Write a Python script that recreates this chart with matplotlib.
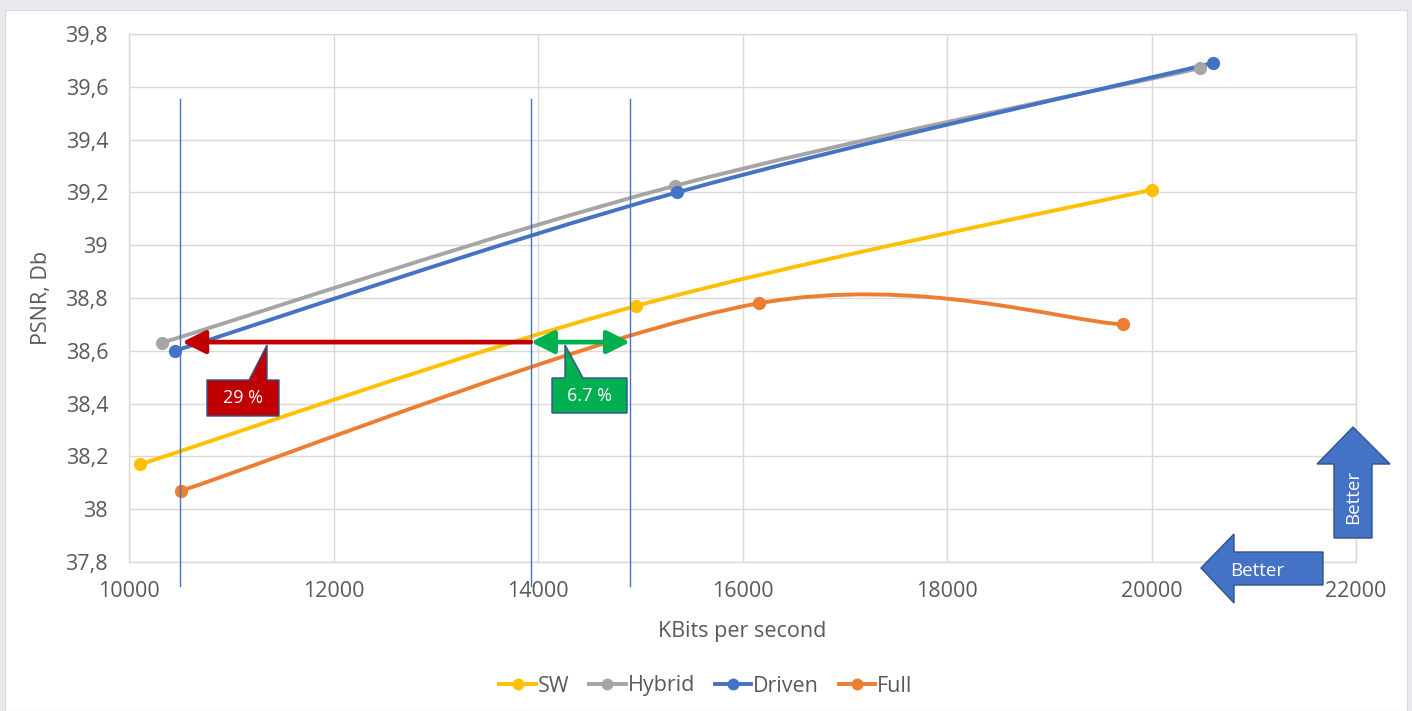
import matplotlib
matplotlib.use("Agg")
import matplotlib.pyplot as plt
from matplotlib.path import Path
from matplotlib.patches import PathPatch, Polygon, FancyArrowPatch
from matplotlib.lines import Line2D
from matplotlib.ticker import FuncFormatter, MultipleLocator

plt.rcParams['font.family'] = ['Open Sans', 'DejaVu Sans']

# ---- data ----
sw_x = [10110, 14960, 20000]
sw_y = [38.17, 38.77, 39.21]
hybrid_x = [10320, 15340, 20470]
hybrid_y = [38.63, 39.225, 39.67]
driven_x = [10450, 15360, 20600]
driven_y = [38.60, 39.20, 39.69]
full_x = [10510, 16160, 19720]
full_y = [38.07, 38.78, 38.70]
series_names = ["SW", "Hybrid", "Driven", "Full"]
series_colors = ["#FFC000", "#A5A5A5", "#4472C4", "#ED7D31"]
vlines_x = [10500, 13930, 14900]
ref_y = 38.633
label_red = "29 %"
label_green = "6.7 %"

W, H = 1412, 711
fig = plt.figure(figsize=(W / 100, H / 100), dpi=100)
fig.patch.set_facecolor("#E9EAEE")
# white chart area
fig.patches.append(plt.Rectangle((5 / W, 0), (W - 10) / W, (H - 10) / H,
                                 transform=fig.transFigure, facecolor="white",
                                 edgecolor="#D9D9D9", lw=0.8, zorder=-10))

L, R, T, B = 129, 1356, 34, 562
ax = fig.add_axes([L / W, 1 - B / H, (R - L) / W, (B - T) / H])
ax.set_zorder(1)
ax.patch.set_alpha(0)
ax.set_xlim(10000, 22000)
ax.set_ylim(37.8, 39.8)
ax.xaxis.set_major_locator(MultipleLocator(2000))
ax.yaxis.set_major_locator(MultipleLocator(0.2))


def yfmt(v, pos):
    s = ("%.1f" % v)
    if s.endswith(".0"):
        s = s[:-2]
    return s.replace(".", ",")


ax.yaxis.set_major_formatter(FuncFormatter(yfmt))
ax.xaxis.set_major_formatter(FuncFormatter(lambda v, p: "%d" % v))
ax.grid(True, color="#D9D9D9", lw=1.0)
ax.set_axisbelow(True)
for s in ax.spines.values():
    s.set_color("#D9D9D9")
    s.set_linewidth(1.0)
ax.tick_params(axis="y", length=0, labelsize=15.5, labelcolor="#595959", pad=15)
ax.tick_params(axis="x", length=0, labelsize=15.5, labelcolor="#595959", pad=14)
ax.set_xlabel("KBits per second", fontsize=15.5, color="#595959", labelpad=13)
ax.set_ylabel("PSNR, Db", fontsize=15.5, color="#595959", labelpad=10)


def smooth_path(xs, ys):
    pts = list(zip(xs, ys))
    n = len(pts)
    verts = [pts[0]]
    codes = [Path.MOVETO]
    for i in range(n - 1):
        p0 = pts[i - 1] if i > 0 else pts[i]
        p1 = pts[i]
        p2 = pts[i + 1]
        p3 = pts[i + 2] if i + 2 < n else pts[i + 1]
        c1 = (p1[0] + (p2[0] - p0[0]) / 6, p1[1] + (p2[1] - p0[1]) / 6)
        c2 = (p2[0] - (p3[0] - p1[0]) / 6, p2[1] - (p3[1] - p1[1]) / 6)
        verts += [c1, c2, p2]
        codes += [Path.CURVE4] * 3
    return Path(verts, codes)


all_series = [(sw_x, sw_y), (hybrid_x, hybrid_y), (driven_x, driven_y), (full_x, full_y)]
handles = []
for (xs, ys), name, col in zip(all_series, series_names, series_colors):
    ax.add_patch(PathPatch(smooth_path(xs, ys), facecolor="none", edgecolor=col,
                           lw=2.8, capstyle="round", zorder=3))
    ax.plot(xs, ys, ls="none", marker="o", ms=8.5, color=col, zorder=4)
    handles.append(Line2D([], [], color=col, lw=2.8, marker="o", ms=7.5, label=name))

# vertical reference lines
for vx in vlines_x:
    ax.plot([vx, vx], [39.555, 37.71], color="#4472C4", lw=1.0, clip_on=False, zorder=5)

# red arrow
ax.add_patch(FancyArrowPatch((vlines_x[1], ref_y), (vlines_x[0] + 20, ref_y),
                             arrowstyle="-|>,head_length=1.0,head_width=0.5",
                             color="#C00000", lw=3.4, mutation_scale=14, zorder=6,
                             shrinkA=0, shrinkB=0))
# green double arrow
ax.add_patch(FancyArrowPatch((vlines_x[1], ref_y), (vlines_x[2], ref_y),
                             arrowstyle="<|-|>,head_length=1.0,head_width=0.5",
                             color="#00B050", lw=3.4, mutation_scale=14, zorder=6,
                             shrinkA=0, shrinkB=0))


def px(x, y):
    return (x / W, 1 - y / H)


def callout(box, base, tip, color, text):
    x0, y0, x1, y1 = box
    b0, b1 = base
    poly = [px(x0, y0), px(b0, y0), px(*tip), px(b1, y0), px(x1, y0),
            px(x1, y1), px(x0, y1)]
    fig.patches.append(Polygon(poly, closed=True, transform=fig.transFigure,
                               facecolor=color, edgecolor="#2F528F", lw=1.0, zorder=7))
    fig.text((x0 + x1) / 2 / W, 1 - (y0 + y1) / 2 / H, text, color="white",
             fontsize=13, ha="center", va="center", zorder=8)


callout((207, 380, 279, 416), (249, 267), (267, 345), "#C00000", label_red)
callout((552, 378, 627, 413), (565, 583), (565, 345), "#00B050", label_green)

# "Better" arrows
up = [px(1353, 427), px(1390, 464), px(1372, 464), px(1372, 538),
      px(1334, 538), px(1334, 464), px(1317, 464)]
fig.patches.append(Polygon(up, closed=True, transform=fig.transFigure,
                           facecolor="#4472C4", edgecolor="#2F528F", lw=1.0, zorder=7))
fig.text(1353 / W, 1 - 497 / H, "Better", color="white", fontsize=13.5,
         rotation=90, ha="center", va="center", zorder=8)
left = [px(1201, 568), px(1234, 534), px(1234, 552), px(1323, 552),
        px(1323, 585), px(1234, 585), px(1234, 603)]
fig.patches.append(Polygon(left, closed=True, transform=fig.transFigure,
                           facecolor="#4472C4", edgecolor="#2F528F", lw=1.0, zorder=7))
fig.text(1257 / W, 1 - 571 / H, "Better", color="white", fontsize=13.5,
         ha="center", va="center", zorder=8)

fig.legend(handles=handles, loc="center", bbox_to_anchor=(0.5, 1 - 686 / H),
           ncol=4, frameon=False, fontsize=15.5, labelcolor="#595959",
           handlelength=1.7, handletextpad=0.1, columnspacing=0.9)

fig.savefig("out.png", dpi=100, facecolor=fig.get_facecolor())
